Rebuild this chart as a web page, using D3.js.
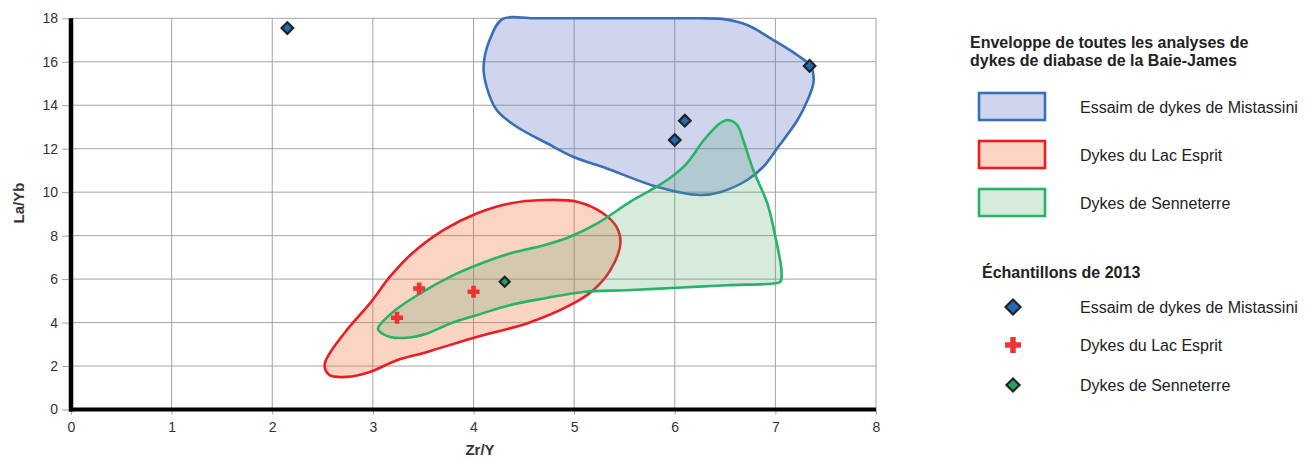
<!DOCTYPE html>
<html>
<head>
<meta charset="utf-8">
<script src="https://cdn.jsdelivr.net/npm/d3@7"></script>
<style>
  html, body { margin: 0; padding: 0; background: #fff; }
  svg { display: block; font-family: "Liberation Sans", Arial, sans-serif; }
</style>
</head>
<body>
<svg id="chart" width="1308" height="460"></svg>
<script>
// Ticks
const xTicks = [0, 1, 2, 3, 4, 5, 6, 7, 8];
const yTicks = [0, 2, 4, 6, 8, 10, 12, 14, 16, 18];

// Envelopes of all Baie-James diabase dyke analyses, [Zr/Y, La/Yb]
const envMistassini = [
  [4.29, 17.97], [4.6, 18.0], [5.2, 18.0], [5.8, 18.0], [6.25, 18.0], [6.5, 17.95],
  [6.72, 17.69], [6.98, 17.0], [7.22, 16.3],
  [7.35, 15.8], [7.38, 15.1], [7.32, 14.24], [7.22, 13.32], [7.02, 12.03],
  [6.88, 11.17], [6.72, 10.56], [6.45, 10.0], [6.25, 9.87], [5.82, 10.25],
  [5.32, 11.1], [4.99, 11.63], [4.73, 12.25], [4.43, 13.01], [4.23, 13.78],
  [4.13, 14.85], [4.10, 15.76], [4.16, 17.0]
];
const envLacEsprit = [
  [2.52, 2.04], [2.57, 1.58], [2.74, 1.50], [2.97, 1.73], [3.24, 2.27],
  [3.54, 2.65], [4.03, 3.34], [4.53, 3.96], [4.96, 4.80], [5.19, 5.49],
  [5.36, 6.41], [5.46, 7.64], [5.42, 8.41], [5.29, 9.02], [5.03, 9.56],
  [4.70, 9.64], [4.36, 9.48], [4.03, 9.02], [3.70, 8.25], [3.37, 7.10],
  [3.17, 6.11], [2.97, 4.88], [2.74, 3.65], [2.57, 2.58]
];
const envSenneterre = [
  [3.05, 3.73], [3.20, 4.49], [3.47, 5.34], [3.80, 6.18], [4.03, 6.64],
  [4.36, 7.18], [4.70, 7.56], [4.96, 7.95], [5.23, 8.56], [5.56, 9.56],
  [5.82, 10.25], [5.95, 10.64], [6.12, 11.33], [6.29, 12.4], [6.45, 13.17],
  [6.53, 13.32], [6.62, 13.09], [6.68, 12.4], [6.78, 11.02], [6.92, 9.48],
  [7.00, 7.95], [7.06, 6.41], [7.05, 5.88], [6.98, 5.80], [6.52, 5.72],
  [6.02, 5.60], [5.52, 5.49], [5.09, 5.41], [4.70, 5.11], [4.36, 4.80],
  [4.03, 4.34], [3.77, 3.96], [3.54, 3.50], [3.34, 3.30], [3.17, 3.34],
  [3.07, 3.57]
];

// 2013 samples, [Zr/Y, La/Yb]
const smpMistassini = [[2.15, 17.55], [6.10, 13.29], [6.00, 12.40], [7.34, 15.81]];
const smpLacEsprit = [[3.46, 5.57], [4.00, 5.42], [3.24, 4.22]];
const smpSenneterre = [[4.31, 5.88]];

const legendTitle1 = ["Enveloppe de toutes les analyses de", "dykes de diabase de la Baie-James"];
const legendTitle2 = "Échantillons de 2013";
const groupNames = ["Essaim de dykes de Mistassini", "Dykes du Lac Esprit", "Dykes de Senneterre"];

const svg = d3.select("#chart");
const x = d3.scaleLinear().domain([0, 8]).range([71, 876]);
const y = d3.scaleLinear().domain([0, 18]).range([409.5, 18.3]);

const styles = [
  { stroke: "#3a6fb6", fill: "rgb(100,115,198)", op: 0.3 },
  { stroke: "#ec1c24", fill: "rgb(245,112,58)", op: 0.3 },
  { stroke: "#27b36a", fill: "rgb(73,164,100)", op: 0.22 }
];

// Grid
const grid = svg.append("g");
grid.selectAll(".gx").data(xTicks.slice(1)).join("line")
  .attr("x1", d => x(d)).attr("x2", d => x(d))
  .attr("y1", y(18)).attr("y2", y(0))
  .attr("stroke", "#a3a3a3").attr("stroke-width", 1);
grid.selectAll(".gy").data(yTicks.slice(1)).join("line")
  .attr("x1", x(0)).attr("x2", x(8))
  .attr("y1", d => y(d)).attr("y2", d => y(d))
  .attr("stroke", "#a3a3a3").attr("stroke-width", 1);

// Envelopes
const line = d3.line().x(d => x(d[0])).y(d => y(d[1])).curve(d3.curveCatmullRomClosed.alpha(0.5));
[envMistassini, envLacEsprit, envSenneterre].forEach((env, i) => {
  svg.append("path").attr("d", line(env))
    .attr("fill", styles[i].fill).attr("fill-opacity", styles[i].op)
    .attr("stroke", styles[i].stroke).attr("stroke-width", 2.6)
    .attr("stroke-linejoin", "round");
});

// Axes
const xAxis = d3.axisBottom(x).tickValues(xTicks).tickSize(5).tickPadding(8);
const yAxis = d3.axisLeft(y).tickValues(yTicks).tickSize(9).tickPadding(4);
const gx = svg.append("g").attr("transform", `translate(0,${y(0)})`).call(xAxis);
const gy = svg.append("g").attr("transform", `translate(${x(0)},0)`).call(yAxis);
[gx, gy].forEach(g => {
  g.select(".domain").remove();
  g.selectAll(".tick line").attr("stroke", "#a3a3a3");
  g.selectAll(".tick text").attr("fill", "#333").style("font-size", "14px")
    .style("font-family", "'Liberation Sans', Arial, sans-serif");
});
svg.append("line").attr("x1", x(0)).attr("x2", x(0)).attr("y1", y(18)).attr("y2", y(0) + 2)
  .attr("stroke", "#000").attr("stroke-width", 4.5);
svg.append("line").attr("x1", x(0) - 2).attr("x2", x(8)).attr("y1", y(0)).attr("y2", y(0))
  .attr("stroke", "#000").attr("stroke-width", 4);

// Axis titles
svg.append("text").attr("x", 480).attr("y", 455).attr("text-anchor", "middle")
  .attr("font-weight", "bold").attr("font-size", 15).attr("fill", "#333").text("Zr/Y");
svg.append("text").attr("transform", `translate(24,203) rotate(-90)`).attr("text-anchor", "middle")
  .attr("font-weight", "bold").attr("font-size", 15).attr("fill", "#333").text("La/Yb");

// Markers
const diamond = (g, cx, cy, r, fill) => {
  g.append("path")
    .attr("d", `M${cx},${cy - r}L${cx + r},${cy}L${cx},${cy + r}L${cx - r},${cy}Z`)
    .attr("fill", fill).attr("stroke", "#222").attr("stroke-width", 2.2);
};
const cross = (g, cx, cy, s, w, fill) => {
  g.append("path")
    .attr("d", `M${cx - w / 2},${cy - s}h${w}v${s - w / 2}h${s - w / 2}v${w}h${-(s - w / 2)}v${s - w / 2}h${-w}v${-(s - w / 2)}h${-(s - w / 2)}v${-w}h${s - w / 2}Z`)
    .attr("fill", fill);
};
const marks = svg.append("g");
smpMistassini.forEach(d => diamond(marks, x(d[0]), y(d[1]), 5.8, "#1f6cb4"));
smpLacEsprit.forEach(d => cross(marks, x(d[0]), y(d[1]), 6, 4.6, "#ee3333"));
smpSenneterre.forEach(d => diamond(marks, x(d[0]), y(d[1]), 5, "#2aa05a"));

// Legend
const lg = svg.append("g");
legendTitle1.forEach((t, i) => {
  lg.append("text").attr("x", 970).attr("y", 48 + i * 18).attr("font-weight", "bold")
    .attr("font-size", 16).attr("fill", "#222").text(t);
});
const rectY = [93, 141, 189];
groupNames.forEach((name, i) => {
  lg.append("rect").attr("x", 979).attr("y", rectY[i]).attr("width", 66).attr("height", 27)
    .attr("fill", styles[i].fill).attr("fill-opacity", styles[i].op)
    .attr("stroke", styles[i].stroke).attr("stroke-width", 2.6);
  lg.append("text").attr("x", 1080).attr("y", rectY[i] + 14.5).attr("dy", "0.35em")
    .attr("font-size", 16).attr("fill", "#222").text(name);
});
lg.append("text").attr("x", 982).attr("y", 278).attr("font-weight", "bold")
  .attr("font-size", 16).attr("fill", "#222").text(legendTitle2);
const symY = [307, 345, 385];
diamond(lg, 1013, symY[0], 7.5, "#1f6cb4");
cross(lg, 1013, symY[1], 8, 5.5, "#ee3333");
diamond(lg, 1013, symY[2], 6.5, "#2aa05a");
groupNames.forEach((name, i) => {
  lg.append("text").attr("x", 1080).attr("y", symY[i]).attr("dy", "0.35em")
    .attr("font-size", 16).attr("fill", "#222").text(name);
});
</script>
</body>
</html>
